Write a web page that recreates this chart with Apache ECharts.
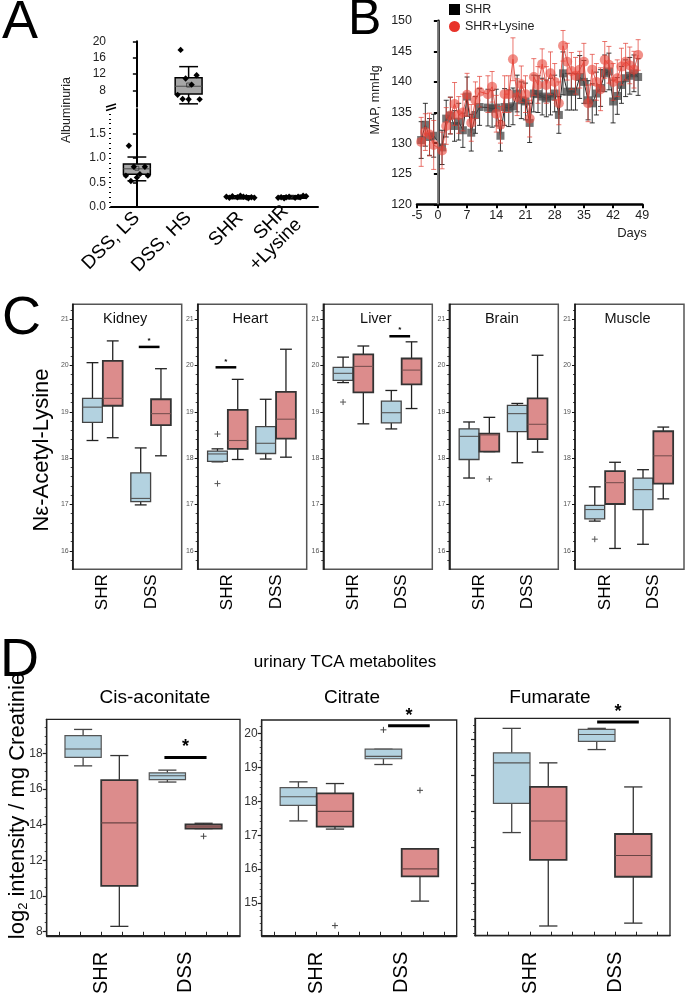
<!DOCTYPE html>
<html><head><meta charset="utf-8">
<script src="https://cdn.jsdelivr.net/npm/echarts@6/dist/echarts.min.js"></script>
<style>html,body{margin:0;padding:0;background:#fff}#c{width:685px;height:997px}</style>
</head><body><div id="c"></div>
<script>
// ================= DATA =================
// Panel A (Albuminuria)
const aCategories = ['DSS, LS', 'DSS, HS', 'SHR', 'SHR\n+Lysine'];
// [catIndex, min, q1, median, q3, max, mean]
const aBoxLow = [[0, 0.535, 0.67, 0.78, 0.88, 1.02, 0.79], [2, 0.17, 0.18, 0.20, 0.22, 0.23, 0.20], [3, 0.17, 0.18, 0.20, 0.22, 0.23, 0.20]];
const aBoxHigh = [[1, 4.7, 7.1, 9.0, 11.1, 13.8, 9.3]];
const aPointsLow = [[0, 1.25], [0, 0.82], [0, 0.82], [0, 0.67], [0, 0.64], [0, 0.64], [0, 0.60], [0, 0.53],
  [2, 0.20], [2, 0.21], [2, 0.19], [2, 0.22], [2, 0.18], [2, 0.20], [2, 0.21], [2, 0.19], [2, 0.20], [2, 0.23],
  [3, 0.20], [3, 0.21], [3, 0.19], [3, 0.22], [3, 0.18], [3, 0.20], [3, 0.21], [3, 0.19], [3, 0.20], [3, 0.23]];
const aPointsHigh = [[1, 17.9], [1, 11.7], [1, 10.9], [1, 9.4], [1, 6.9], [1, 5.8], [1, 5.8], [1, 5.9]];
const aLowTicks = [0, 0.5, 1.0, 1.5];
const aHighTicks = [8, 12, 16, 20];

// Panel B (MAP)
const bDays = [-4, -3, -2, -1, 1, 2, 3, 4, 5, 6, 7, 8, 9, 10, 12, 13, 14, 15, 16, 17, 18, 19, 20, 21, 22, 23, 24, 25, 26, 27, 28, 29, 30, 31, 32, 33, 34, 35, 36, 37, 38, 39, 40, 41, 42, 43, 44, 45, 46, 47, 48];
const shrMean = [130.5, 133.0, 131.0, 131.2, 129.3, 134.0, 134.5, 132.8, 133.5, 132.1, 137.6, 131.7, 134.6, 135.9, 135.8, 135.6, 135.8, 131.2, 135.9, 135.7, 136.0, 138.1, 137.0, 136.8, 133.3, 138.1, 138.0, 137.6, 137.3, 137.6, 138.1, 134.6, 141.4, 138.4, 138.4, 138.4, 140.8, 140.0, 137.0, 136.5, 138.1, 139.0, 141.4, 141.7, 136.8, 137.7, 139.5, 140.6, 141.0, 141.4, 140.8];
const shrErr = [3, 3.5, 3, 3.5, 2.8, 3, 3, 2.5, 3, 2.8, 3.2, 3, 3, 3, 3, 3, 3, 2.5, 3, 3, 3, 3, 3, 3, 3.2, 3, 3, 3, 3, 3, 3, 3, 3.5, 3, 3, 3, 3.5, 3.5, 3.2, 3.2, 3.5, 3, 3, 3, 3.5, 3, 3, 3, 3, 3, 3];
const lysMean = [130.2, 131.8, 131.4, 129.7, 128.8, 132.8, 134.5, 136.4, 134.6, 135.0, 137.9, 133.3, 137.0, 138.4, 138.0, 139.2, 134.8, 133.0, 138.0, 138.0, 143.7, 137.5, 139.6, 138.0, 134.0, 140.8, 139.5, 142.9, 139.5, 141.4, 140.0, 136.5, 145.9, 143.3, 141.8, 141.0, 142.0, 143.3, 136.5, 142.0, 140.0, 138.8, 143.6, 142.8, 140.0, 140.6, 142.5, 143.3, 142.7, 142.0, 144.4];
const lysErr = [4, 3, 3.5, 4, 3, 3, 3, 3.5, 3, 3, 3.5, 3, 3, 2.5, 3, 2.5, 3, 3, 3, 3, 3.5, 3, 3, 3, 3, 3, 3, 2.5, 3, 3.5, 3, 3.5, 2.5, 3, 3, 3, 3, 3, 3, 2.5, 3, 3.5, 3, 3, 3, 3, 3, 3, 3, 3, 2.5];
const bDayTicks = [-5, 0, 7, 14, 21, 28, 35, 42, 49];

// Panel C (Nε-Acetyl-Lysine)
const cTissues = ['Kidney', 'Heart', 'Liver', 'Brain', 'Muscle'];
const groupCategories = ['SHR', 'DSS'];
// [cat, min, q1, median, q3, max]
const kidneyBlue = [[1, 18.38, 18.77, 19.10, 19.29, 20.06], [2, 16.99, 17.06, 17.13, 17.68, 18.22]];
const kidneyRed = [[1, 18.44, 19.13, 19.29, 20.10, 20.53], [2, 18.05, 18.71, 18.96, 19.27, 19.93]];
const heartBlue = [[1, 17.92, 17.93, 18.09, 18.15, 18.20], [2, 17.98, 18.10, 18.32, 18.68, 19.27]];
const heartRed = [[1, 17.97, 18.20, 18.38, 19.04, 19.70], [2, 18.02, 18.42, 18.84, 19.43, 20.35]];
const liverBlue = [[1, 19.63, 19.68, 19.83, 19.96, 20.18], [2, 18.63, 18.76, 18.98, 19.23, 19.46]];
const liverRed = [[1, 18.74, 19.42, 19.98, 20.24, 20.42], [2, 19.07, 19.59, 19.90, 20.15, 20.51]];
const brainBlue = [[1, 17.57, 17.97, 18.47, 18.63, 18.78], [2, 17.90, 18.57, 18.96, 19.14, 19.18]];
const brainRed = [[1, 18.14, 18.14, 18.50, 18.53, 18.88], [2, 18.13, 18.41, 18.73, 19.29, 20.22]];
const muscleBlue = [[1, 16.64, 16.69, 16.89, 16.98, 17.38], [2, 16.14, 16.89, 17.32, 17.57, 17.75]];
const muscleRed = [[1, 16.05, 17.01, 17.47, 17.72, 17.91], [2, 17.12, 17.45, 18.05, 18.58, 18.67]];
// outliers [cat, value]
const kidneyBlueOut = [], kidneyRedOut = [];
const heartBlueOut = [[1, 18.52], [1, 17.45]], heartRedOut = [];
const liverBlueOut = [[1, 19.21]], liverRedOut = [];
const brainBlueOut = [], brainRedOut = [[1, 17.55]];
const muscleBlueOut = [[1, 16.25]], muscleRedOut = [];
// significance bars [cat, y]
const kidneySig = [[2, 20.40]], heartSig = [[1, 19.96]], liverSig = [[2, 20.63]], brainSig = [], muscleSig = [];
const cTicks = [16, 17, 18, 19, 20, 21];

// Panel D (urinary TCA metabolites)
const dMetabolites = ['Cis-aconitate', 'Citrate', 'Fumarate'];
const cisBlue = [[1, 17.31, 17.79, 18.26, 19.01, 19.36], [2, 16.40, 16.54, 16.75, 16.92, 17.07]];
const cisRed = [[1, 8.28, 10.56, 14.10, 16.51, 17.89], [2, 13.78, 13.78, 13.88, 14.01, 14.08]];
const cisBlueOut = [], cisRedOut = [[2, 13.35]];
const citBlue = [[1, 17.42, 17.88, 18.13, 18.40, 18.57], [2, 19.08, 19.25, 19.32, 19.53, 19.53]];
const citRed = [[1, 17.18, 17.25, 17.70, 18.23, 18.52], [2, 15.06, 15.79, 16.01, 16.60, 16.60]];
const citBlueOut = [[2, 20.10]], citRedOut = [[1, 14.34], [2, 18.32]];
const fumBlue = [[1, 17.40, 18.21, 19.34, 19.62, 20.30], [2, 19.71, 19.94, 20.13, 20.27, 20.30]];
const fumRed = [[1, 14.80, 16.64, 17.72, 18.67, 19.34], [2, 14.88, 16.17, 16.76, 17.36, 18.67]];
const fumBlueOut = [], fumRedOut = [];
const cisSig = [[2, 17.78]], citSig = [[2, 20.22]], fumSig = [[2, 20.48]];
const cisTicks = [8, 10, 12, 14, 16, 18];
const citTicks = [15, 16, 17, 18, 19, 20];
const fumTicks = [15, 16, 17, 18, 19, 20];

// ================= RENDERING =================
const FONT = '"Liberation Sans", Arial, Helvetica, sans-serif';
const grids = [], xAxes = [], yAxes = [], series = [], graphics = [];
function steps(a, b, s) { const r = []; for (let v = a; v <= b + 1e-9; v += s) r.push(Math.round(v * 1000) / 1000); return r; }

function boxRenderer(cfg) {
  return function (params, api) {
    const xc = api.value(0) + cfg.off;
    const pMin = api.coord([xc, api.value(1)]), pQ1 = api.coord([xc, api.value(2)]), pMd = api.coord([xc, api.value(3)]),
      pQ3 = api.coord([xc, api.value(4)]), pMx = api.coord([xc, api.value(5)]);
    const w = api.size([cfg.width, 0])[0];
    const cx = pMd[0], hw = w / 2, cw = w * cfg.cap / 2;
    const wl = { stroke: cfg.whisker, lineWidth: cfg.wlw };
    const ch = [
      { type: 'line', shape: { x1: cx, y1: pMx[1], x2: cx, y2: pQ3[1] }, style: wl },
      { type: 'line', shape: { x1: cx, y1: pQ1[1], x2: cx, y2: pMin[1] }, style: wl },
      { type: 'line', shape: { x1: cx - cw, y1: pMx[1], x2: cx + cw, y2: pMx[1] }, style: wl },
      { type: 'line', shape: { x1: cx - cw, y1: pMin[1], x2: cx + cw, y2: pMin[1] }, style: wl },
      { type: 'rect', shape: { x: cx - hw, y: pQ3[1], width: w, height: Math.max(pQ1[1] - pQ3[1], 1) }, style: { fill: cfg.fill, stroke: cfg.stroke, lineWidth: cfg.lw } },
      { type: 'line', shape: { x1: cx - hw, y1: pMd[1], x2: cx + hw, y2: pMd[1] }, style: { stroke: cfg.median, lineWidth: 1.1 } }
    ];
    if (cfg.mean) {
      const pm = api.coord([xc, api.value(6)]);
      ch.push({ type: 'rect', shape: { x: cx - 2, y: pm[1] - 2, width: 4, height: 4 }, style: { fill: 'none', stroke: '#333', lineWidth: 0.8 } });
    }
    return { type: 'group', children: ch };
  };
}
function outlierRenderer(off, color) {
  return function (params, api) {
    const p = api.coord([api.value(0) + off, api.value(1)]);
    return { type: 'group', children: [
      { type: 'line', shape: { x1: p[0] - 3, y1: p[1], x2: p[0] + 3, y2: p[1] }, style: { stroke: color, lineWidth: 1 } },
      { type: 'line', shape: { x1: p[0], y1: p[1] - 3, x2: p[0], y2: p[1] + 3 }, style: { stroke: color, lineWidth: 1 } }
    ] };
  };
}
function sigRenderer(s0, s1, lw, starSize, starGap) {
  return function (params, api) {
    const a = api.coord([api.value(0) + s0, api.value(1)]), b = api.coord([api.value(0) + s1, api.value(1)]);
    return { type: 'group', children: [
      { type: 'line', shape: { x1: a[0], y1: a[1], x2: b[0], y2: b[1] }, style: { stroke: '#000', lineWidth: lw } },
      { type: 'text', x: (a[0] + b[0]) / 2, y: a[1] - starGap, style: { text: '*', fontSize: starSize, fontWeight: 'bold', fontFamily: FONT, fill: '#000', align: 'center', verticalAlign: 'middle' } }
    ] };
  };
}
function pointRenderer() {
  const jit = [-8, 8, -3, 3, -11, 11, 0, -6, 6, -14, 14];
  return function (params, api) {
    const p = api.coord([api.value(0), api.value(1)]);
    const x = p[0] + jit[params.dataIndex % jit.length], y = p[1], r = 3.2;
    return { type: 'polygon', shape: { points: [[x, y - r], [x + r, y], [x, y + r], [x - r, y]] }, style: { fill: '#000' } };
  };
}
function customSeries(data, renderItem, xi, yi, z) {
  return { type: 'custom', coordinateSystem: 'cartesian2d', xAxisIndex: xi, yAxisIndex: yi, data: data, renderItem: renderItem, z: z || 3, silent: true, animation: false };
}

// ---------- Panel A ----------
(function () {
  const gLow = grids.push({ left: 111, top: 109, width: 207, height: 98 }) - 1;
  const gHigh = grids.push({ left: 111, top: 41.3, width: 207, height: 65.4 }) - 1;
  const xl = xAxes.push({ type: 'value', gridIndex: gLow, min: -0.5, max: 3.5, position: 'bottom',
    axisLine: { lineStyle: { color: '#000', width: 2 } }, axisTick: { show: false }, splitLine: { show: false },
    axisLabel: { customValues: [0, 1, 2, 3], formatter: v => aCategories[Math.round(v)], rotate: 45, fontSize: 19, color: '#000', fontFamily: FONT, margin: 8, lineHeight: 19 } }) - 1;
  const xh = xAxes.push({ type: 'value', gridIndex: gHigh, min: -0.5, max: 3.5, show: false }) - 1;
  const yl = yAxes.push({ type: 'value', gridIndex: gLow, min: 0, max: 2, position: 'left',
    axisLine: { show: true, lineStyle: { color: '#000', width: 2 } }, splitLine: { show: false },
    axisTick: { show: true, customValues: aLowTicks, length: 4, lineStyle: { color: '#000', width: 1.5 } },
    axisLabel: { customValues: aLowTicks, formatter: v => v.toFixed(1), fontSize: 12, color: '#222', fontFamily: FONT, margin: 5 } }) - 1;
  yAxes.push({ type: 'value', gridIndex: gLow, min: 0, max: 2, position: 'left', axisLine: { show: false }, axisLabel: { show: false }, splitLine: { show: false },
    axisTick: { show: true, customValues: steps(0, 1.9, 0.1), length: 2, lineStyle: { color: '#000', width: 1 } } });
  const yh = yAxes.push({ type: 'value', gridIndex: gHigh, min: 4, max: 20, position: 'left',
    axisLine: { show: true, lineStyle: { color: '#000', width: 2 } }, splitLine: { show: false },
    axisTick: { show: true, customValues: aHighTicks, length: 4, lineStyle: { color: '#000', width: 1.5 } },
    axisLabel: { customValues: aHighTicks, fontSize: 12, color: '#222', fontFamily: FONT, margin: 5 } }) - 1;
  const boxCfg = { off: 0, width: 0.52, cap: 0.7, whisker: '#000', wlw: 1.5, fill: '#a6a6a6', stroke: '#000', lw: 1.5, median: '#555', mean: true };
  series.push(customSeries(aBoxLow, boxRenderer(boxCfg), xl, yl));
  series.push(customSeries(aBoxHigh, boxRenderer(boxCfg), xh, yh));
  series.push(customSeries(aPointsLow, pointRenderer(), xl, yl, 4));
  series.push(customSeries(aPointsHigh, pointRenderer(), xh, yh, 4));
  graphics.push({ type: 'group', z: 100, children: [
    { type: 'rect', shape: { x: 106, y: 104.5, width: 10, height: 6 }, style: { fill: '#fff' } },
    { type: 'line', shape: { x1: 106, y1: 107, x2: 116, y2: 104 }, style: { stroke: '#000', lineWidth: 1.5 } },
    { type: 'line', shape: { x1: 106, y1: 110.5, x2: 116, y2: 107.5 }, style: { stroke: '#000', lineWidth: 1.5 } }
  ] });
  graphics.push({ type: 'text', x: 67, y: 110, rotation: Math.PI / 2, style: { text: 'Albuminuria', fontSize: 12.5, fontFamily: FONT, fill: '#222', align: 'center', verticalAlign: 'middle' } });
  graphics.push({ type: 'text', x: 2, y: -4, style: { text: 'A', fontSize: 54, fontFamily: FONT, fill: '#000' } });
})();

// ---------- Panel B ----------
(function () {
  const g = grids.push({ left: 417, top: 20.7, width: 225.3, height: 183.6 }) - 1;
  const xi = xAxes.push({ type: 'value', gridIndex: g, min: -5, max: 49, position: 'bottom',
    axisLine: { lineStyle: { color: '#000', width: 2.5 } }, splitLine: { show: false },
    axisTick: { customValues: bDayTicks, length: 4, lineStyle: { color: '#000', width: 2 } },
    axisLabel: { customValues: bDayTicks, fontSize: 12.5, color: '#222', fontFamily: FONT, margin: 5 } }) - 1;
  const yi = yAxes.push({ type: 'value', gridIndex: g, min: 120, max: 150, interval: 5, position: 'left',
    axisLine: { show: true, lineStyle: { color: '#000', width: 2.5 } }, splitLine: { show: false },
    axisTick: { show: true, length: 4, lineStyle: { color: '#000', width: 2 } },
    axisLabel: { fontSize: 12.5, color: '#222', fontFamily: FONT, margin: 5 } }) - 1;
  const shrData = bDays.map((d, i) => [d, shrMean[i]]);
  const lysData = bDays.map((d, i) => [d, lysMean[i]]);
  function errRenderer(color, cap) {
    return function (params, api) {
      const x = api.value(0), m = api.value(1), e = api.value(2);
      const t = api.coord([x, m + e]), b = api.coord([x, m - e]);
      const st = { stroke: color, lineWidth: 1 };
      return { type: 'group', children: [
        { type: 'line', shape: { x1: t[0], y1: t[1], x2: b[0], y2: b[1] }, style: st },
        { type: 'line', shape: { x1: t[0] - cap, y1: t[1], x2: t[0] + cap, y2: t[1] }, style: st },
        { type: 'line', shape: { x1: b[0] - cap, y1: b[1], x2: b[0] + cap, y2: b[1] }, style: st }
      ] };
    };
  }
  series.push(customSeries(bDays.map((d, i) => [d, shrMean[i], shrErr[i]]), errRenderer('rgba(20,20,20,0.85)', 2.5), xi, yi, 2));
  series.push({ name: 'SHR', type: 'line', xAxisIndex: xi, yAxisIndex: yi, data: shrData, symbol: 'rect', symbolSize: 8,
    itemStyle: { color: 'rgba(70,70,70,0.75)' }, lineStyle: { color: '#222', width: 1 }, z: 3, animation: false,
    markLine: { silent: true, symbol: 'none', label: { show: false }, lineStyle: { color: '#999', width: 1.5, type: 'solid' }, data: [{ xAxis: 0 }] } });
  series.push(customSeries(bDays.map((d, i) => [d, lysMean[i], lysErr[i]]), errRenderer('rgba(225,60,50,0.7)', 2.5), xi, yi, 4));
  series.push({ name: 'SHR+Lysine', type: 'line', xAxisIndex: xi, yAxisIndex: yi, data: lysData, symbol: 'circle', symbolSize: 10,
    itemStyle: { color: 'rgba(232,70,58,0.6)' }, lineStyle: { color: 'rgba(225,50,40,0.8)', width: 1 }, z: 5, animation: false });
  graphics.push({ type: 'text', x: 632, y: 233, style: { text: 'Days', fontSize: 13, fontFamily: FONT, fill: '#222', align: 'center', verticalAlign: 'middle' } });
  graphics.push({ type: 'text', x: 376, y: 100, rotation: Math.PI / 2, style: { text: 'MAP, mmHg', fontSize: 12.5, fontFamily: FONT, fill: '#222', align: 'center', verticalAlign: 'middle' } });
  graphics.push({ type: 'text', x: 348, y: -5, style: { text: 'B', fontSize: 50, fontFamily: FONT, fill: '#000' } });
})();

// ---------- Panel C ----------
const cBlue = [kidneyBlue, heartBlue, liverBlue, brainBlue, muscleBlue];
const cRed = [kidneyRed, heartRed, liverRed, brainRed, muscleRed];
const cBlueOut = [kidneyBlueOut, heartBlueOut, liverBlueOut, brainBlueOut, muscleBlueOut];
const cRedOut = [kidneyRedOut, heartRedOut, liverRedOut, brainRedOut, muscleRedOut];
const cSig = [kidneySig, heartSig, liverSig, brainSig, muscleSig];
(function () {
  const lefts = [72.7, 197.7, 323.3, 449.3, 575];
  const top = 304.3, h = 265, w = 109;
  cTissues.forEach((name, k) => {
    const g = grids.push({ left: lefts[k], top: top, width: w, height: h, show: true, borderColor: '#555', borderWidth: 1.5, backgroundColor: 'transparent' }) - 1;
    const xi = xAxes.push({ type: 'value', gridIndex: g, min: 0.38, max: 2.64, position: 'bottom', axisLine: { show: false }, axisTick: { show: false }, splitLine: { show: false },
      axisLabel: { customValues: [1, 2], formatter: v => groupCategories[Math.round(v) - 1], rotate: 90, fontSize: 17, color: '#000', fontFamily: FONT, margin: 5 } }) - 1;
    const yi = yAxes.push({ type: 'value', gridIndex: g, min: 15.6, max: 21.32, position: 'left',
      axisLine: { show: true, lineStyle: { color: '#111', width: 1.5 } }, splitLine: { show: false },
      axisTick: { show: true, customValues: cTicks, length: 3, lineStyle: { color: '#111', width: 1 } },
      axisLabel: { customValues: cTicks, fontSize: 7, color: '#555', fontFamily: FONT, margin: 4 } }) - 1;
    yAxes.push({ type: 'value', gridIndex: g, min: 15.6, max: 21.32, position: 'left', axisLine: { show: false }, axisLabel: { show: false }, splitLine: { show: false },
      axisTick: { show: true, customValues: steps(15.8, 21.2, 0.2), length: 2, lineStyle: { color: '#111', width: 0.8 } } });
    series.push(customSeries(cBlue[k], boxRenderer({ off: -0.21, width: 0.41, cap: 0.6, whisker: '#222', wlw: 1.3, fill: '#b3d2e0', stroke: '#444', lw: 1.3, median: '#555' }), xi, yi));
    series.push(customSeries(cRed[k], boxRenderer({ off: 0.21, width: 0.41, cap: 0.6, whisker: '#222', wlw: 1.3, fill: '#dc8c8c', stroke: '#333', lw: 1.8, median: '#7a5050' }), xi, yi));
    series.push(customSeries(cBlueOut[k], outlierRenderer(-0.21, '#555'), xi, yi));
    series.push(customSeries(cRedOut[k], outlierRenderer(0.21, '#555'), xi, yi));
    series.push(customSeries(cSig[k], sigRenderer(-0.25, 0.18, 2.5, 8, 6), xi, yi));
    graphics.push({ type: 'text', x: lefts[k] + w / 2 - 2, y: 319, style: { text: name, fontSize: 14.5, fontFamily: FONT, fill: '#111', align: 'center', verticalAlign: 'middle' } });
  });
  graphics.push({ type: 'text', x: 42, y: 450, rotation: Math.PI / 2, style: { text: 'Nε-Acetyl-Lysine', fontSize: 22, fontFamily: FONT, fill: '#000', align: 'center', verticalAlign: 'middle' } });
  graphics.push({ type: 'text', x: 2, y: 292, style: { text: 'C', fontSize: 54, fontFamily: FONT, fill: '#000' } });
})();

// ---------- Panel D ----------
(function () {
  const rects = [{ left: 46.7, top: 719.3, width: 193.3, height: 217.4 }, { left: 261.7, top: 720, width: 195, height: 217.7 }, { left: 475, top: 718.3, width: 195, height: 217.4 }];
  const ranges = [[7.75, 19.93], [14.04, 20.39], [14.53, 20.58]];
  const majors = [cisTicks, citTicks, fumTicks];
  const minors = [steps(8, 19.5, 0.5), steps(14.2, 20.2, 0.2), steps(14.6, 20.4, 0.2)];
  const showLabels = [true, true, false];
  const blues = [cisBlue, citBlue, fumBlue], reds = [cisRed, citRed, fumRed];
  const bOut = [cisBlueOut, citBlueOut, fumBlueOut], rOut = [cisRedOut, citRedOut, fumRedOut];
  const sigs = [cisSig, citSig, fumSig];
  const sigSpan = [[-0.25, 0.25], [-0.16, 0.33], [-0.21, 0.28]];
  const titleX = [155, 352, 550];
  dMetabolites.forEach((name, k) => {
    const r = rects[k];
    const g = grids.push(Object.assign({ show: true, borderColor: '#222', borderWidth: 1.3, backgroundColor: 'transparent' }, r)) - 1;
    const xi = xAxes.push({ type: 'value', gridIndex: g, min: 0.353, max: 2.647, position: 'bottom',
      axisLine: { show: true, lineStyle: { color: '#222', width: 1.3 } }, splitLine: { show: false },
      axisTick: { show: true, inside: true, customValues: steps(0.5, 2.5, 0.25), length: 4, lineStyle: { color: '#222', width: 1 } },
      axisLabel: { customValues: [1, 2], formatter: v => groupCategories[Math.round(v) - 1], rotate: 90, fontSize: 20, color: '#000', fontFamily: FONT, margin: 16 } }) - 1;
    const yi = yAxes.push({ type: 'value', gridIndex: g, min: ranges[k][0], max: ranges[k][1], position: 'left',
      axisLine: { show: true, lineStyle: { color: '#222', width: 1.3 } }, splitLine: { show: false },
      axisTick: { show: true, customValues: majors[k], length: 4, lineStyle: { color: '#222', width: 1.2 } },
      axisLabel: { show: showLabels[k], customValues: majors[k], fontSize: 12, color: '#333', fontFamily: FONT, margin: 4 } }) - 1;
    yAxes.push({ type: 'value', gridIndex: g, min: ranges[k][0], max: ranges[k][1], position: 'left', axisLine: { show: false }, axisLabel: { show: false }, splitLine: { show: false },
      axisTick: { show: true, customValues: minors[k], length: 2, lineStyle: { color: '#222', width: 0.8 } } });
    series.push(customSeries(blues[k], boxRenderer({ off: -0.215, width: 0.43, cap: 0.5, whisker: '#444', wlw: 1.3, fill: '#b3d2e0', stroke: '#555', lw: 1.2, median: '#555' }), xi, yi));
    series.push(customSeries(reds[k], boxRenderer({ off: 0.215, width: 0.43, cap: 0.5, whisker: '#333', wlw: 1.3, fill: '#dc8c8c', stroke: '#333', lw: 1.8, median: '#6b4545' }), xi, yi));
    series.push(customSeries(bOut[k], outlierRenderer(-0.215, '#444'), xi, yi));
    series.push(customSeries(rOut[k], outlierRenderer(0.215, '#444'), xi, yi));
    series.push(customSeries(sigs[k], sigRenderer(sigSpan[k][0], sigSpan[k][1], 3, 18, 10), xi, yi));
    graphics.push({ type: 'text', x: titleX[k], y: 698, style: { text: name, fontSize: 19, fontFamily: FONT, fill: '#000', align: 'center', verticalAlign: 'middle' } });
  });
  graphics.push({ type: 'text', x: 345, y: 662, style: { text: 'urinary TCA metabolites', fontSize: 17, fontFamily: FONT, fill: '#000', align: 'center', verticalAlign: 'middle' } });
  graphics.push({ type: 'text', x: 18, y: 806, rotation: Math.PI / 2, style: {
    text: '{a|log}{s|2}{a| intensity / mg Creatinie}', align: 'center', verticalAlign: 'middle',
    rich: { a: { fontSize: 22, fontFamily: FONT, fill: '#000' }, s: { fontSize: 13, fontFamily: FONT, fill: '#000', verticalAlign: 'bottom', padding: [11, 0, 0, 0] } } } });
  graphics.push({ type: 'text', x: 0, y: 634, style: { text: 'D', fontSize: 54, fontFamily: FONT, fill: '#000' } });
})();

const chart = echarts.init(document.getElementById('c'), null, { renderer: 'canvas' });
chart.setOption({
  animation: false,
  backgroundColor: '#fff',
  textStyle: { fontFamily: FONT },
  legend: { left: 444, top: -2, orient: 'vertical', itemWidth: 11, itemHeight: 11, itemGap: 4,
    textStyle: { fontSize: 12.5, color: '#222', fontFamily: FONT },
    data: [{ name: 'SHR', icon: 'rect', itemStyle: { color: '#000', opacity: 1 } }, { name: 'SHR+Lysine', icon: 'circle', itemStyle: { color: '#e8332a', opacity: 1 } }] },
  grid: grids, xAxis: xAxes, yAxis: yAxes, series: series, graphic: graphics
});
</script></body></html>
